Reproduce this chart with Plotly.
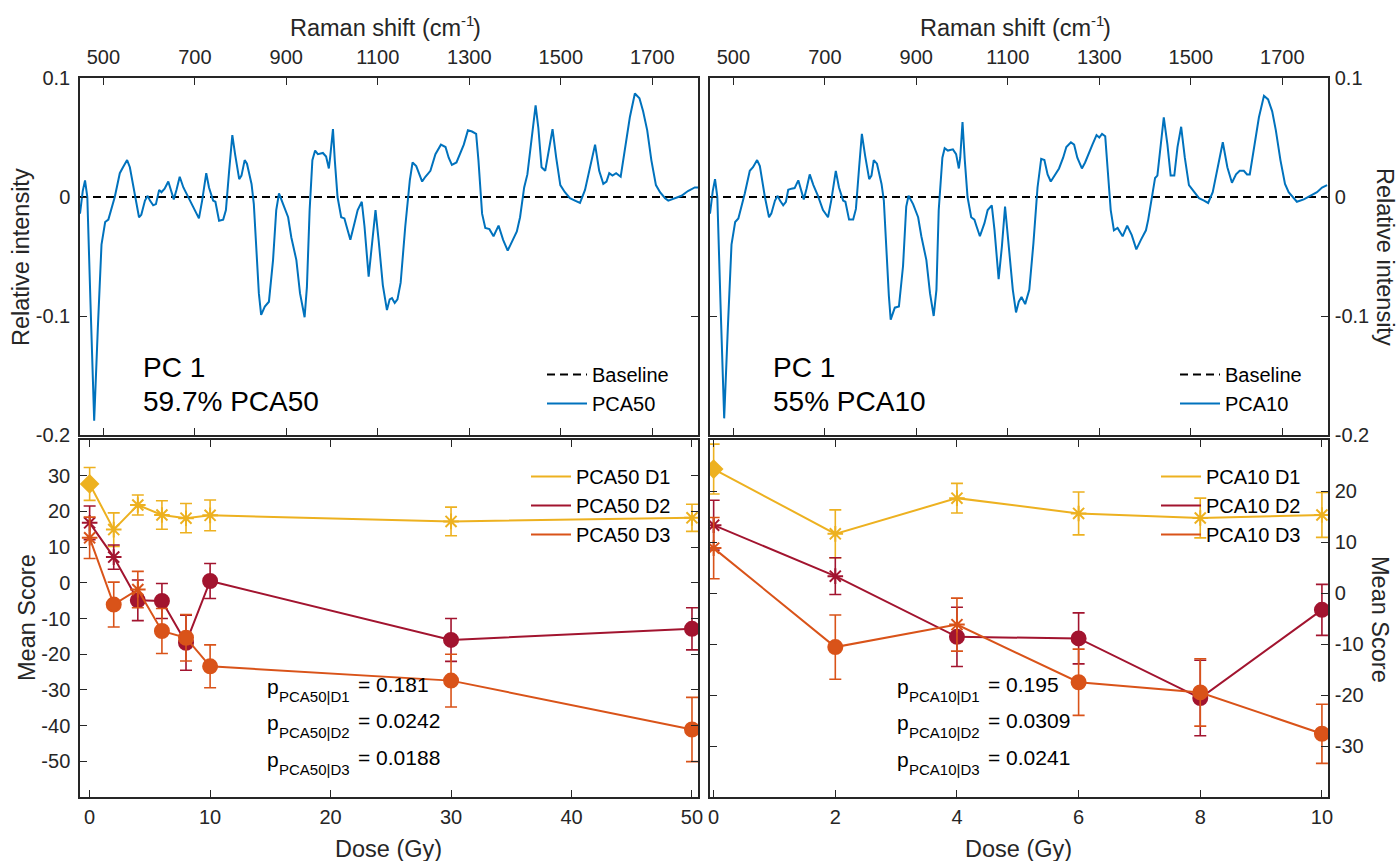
import plotly.graph_objects as go

# ---------------- data ----------------
wn_pca50 = [449, 455, 460, 465, 472, 480, 488, 496, 504, 511, 525, 536, 543, 552, 558, 569, 578, 583, 591, 597,
            602, 609, 615, 622, 627, 634, 642, 646, 654, 660, 667, 675, 685, 696, 709, 716, 725, 731, 740, 745,
            753, 762, 768, 775, 782, 788, 797, 802, 809, 814, 824, 829, 834, 840, 845, 853, 862, 871, 878, 884,
            893, 904, 911, 922, 930, 940, 945, 951, 957, 963, 969, 980, 987, 993, 996, 1002, 1006, 1012, 1020, 1027,
            1032, 1040, 1049, 1056, 1065, 1071, 1080, 1087, 1095, 1102, 1111, 1120, 1126, 1131, 1137, 1143, 1150, 1160, 1170, 1176,
            1184, 1197, 1204, 1215, 1226, 1238, 1248, 1255, 1262, 1272, 1279, 1288, 1297, 1306, 1315, 1320, 1328, 1335, 1344, 1353,
            1364, 1374, 1384, 1393, 1404, 1411, 1420, 1427, 1434, 1445, 1451, 1458, 1466, 1475, 1482, 1490, 1499, 1509, 1520, 1531,
            1542, 1553, 1564, 1575, 1584, 1593, 1600, 1606, 1613, 1621, 1631, 1640, 1651, 1662, 1672, 1680, 1689, 1698, 1708, 1717,
            1728, 1735, 1749, 1764, 1778, 1793, 1800]
int_pca50 = [-0.014, 0.005, 0.014, 0.0, -0.09, -0.188, -0.11, -0.04, -0.021, -0.019, 0.0, 0.020, 0.025, 0.031, 0.025, 0.0, -0.017, -0.015, -0.003, 0.001,
             -0.003, -0.007, -0.006, 0.006, 0.004, 0.007, 0.013, 0.008, -0.002, 0.006, 0.017, 0.008, 0.0, -0.008, -0.018, -0.003, 0.020, 0.008, -0.003, -0.004,
             -0.020, -0.019, -0.011, 0.022, 0.052, 0.036, 0.015, 0.018, 0.031, 0.028, 0.011, -0.006, -0.042, -0.081, -0.099, -0.092, -0.088, -0.053, -0.011, 0.003,
             -0.006, -0.017, -0.034, -0.053, -0.081, -0.101, -0.076, -0.011, 0.031, 0.039, 0.036, 0.037, 0.034, 0.024, 0.034, 0.057, 0.031, 0.0, -0.017, -0.018,
             -0.025, -0.036, -0.022, -0.011, -0.004, -0.025, -0.067, -0.042, -0.011, -0.037, -0.074, -0.095, -0.086, -0.085, -0.089, -0.086, -0.072, -0.025, 0.014, 0.029,
             0.026, 0.013, 0.017, 0.022, 0.036, 0.044, 0.042, 0.033, 0.027, 0.029, 0.036, 0.044, 0.056, 0.055, 0.053, 0.031, -0.014, -0.026, -0.027, -0.033,
             -0.024, -0.036, -0.045, -0.038, -0.029, -0.017, 0.008, 0.019, 0.042, 0.077, 0.058, 0.025, 0.022, 0.042, 0.057, 0.033, 0.010, 0.004, -0.001, -0.003,
             -0.005, 0.006, 0.025, 0.044, 0.022, 0.011, 0.013, 0.020, 0.018, 0.020, 0.017, 0.039, 0.067, 0.087, 0.083, 0.072, 0.056, 0.031, 0.010, 0.004,
             -0.001, -0.003, -0.001, 0.001, 0.005, 0.008, 0.008]

wn_pca10 = [449, 455, 460, 465, 472, 480, 488, 496, 504, 511, 525, 536, 543, 552, 558, 569, 578, 583, 591, 597,
            602, 609, 615, 620, 627, 634, 642, 646, 654, 660, 667, 675, 685, 696, 707, 714, 724, 731, 740, 745,
            753, 762, 768, 775, 781, 788, 797, 802, 807, 814, 824, 829, 834, 840, 844, 853, 862, 871, 878, 883,
            893, 904, 911, 922, 930, 938, 944, 949, 957, 962, 969, 980, 987, 993, 996, 1001, 1006, 1012, 1020, 1027,
            1032, 1039, 1049, 1056, 1065, 1071, 1080, 1087, 1094, 1102, 1111, 1118, 1124, 1130, 1138, 1147, 1156, 1165, 1173, 1180,
            1187, 1194, 1202, 1212, 1221, 1228, 1238, 1245, 1252, 1262, 1269, 1276, 1285, 1294, 1300, 1306, 1313, 1318, 1325, 1332,
            1340, 1351, 1361, 1371, 1381, 1391, 1402, 1407, 1415, 1422, 1427, 1434, 1441, 1449, 1456, 1464, 1471, 1479, 1487, 1496,
            1507, 1518, 1529, 1538, 1548, 1558, 1570, 1580, 1590, 1599, 1607, 1616, 1623, 1629, 1638, 1649, 1660, 1669, 1678, 1686,
            1696, 1706, 1714, 1725, 1732, 1747, 1761, 1776, 1787, 1798]
int_pca10 = [-0.014, 0.005, 0.015, 0.0, -0.09, -0.186, -0.11, -0.04, -0.021, -0.018, 0.003, 0.022, 0.025, 0.031, 0.026, 0.0, -0.017, -0.014, -0.003, 0.001,
             -0.003, -0.007, -0.004, 0.006, 0.007, 0.0075, 0.014, 0.009, -0.002, 0.007, 0.019, 0.010, 0.001, -0.011, -0.017, -0.003, 0.022, 0.008, -0.003, -0.004,
             -0.019, -0.019, -0.010, 0.025, 0.053, 0.035, 0.015, 0.018, 0.031, 0.028, 0.011, -0.003, -0.042, -0.083, -0.103, -0.093, -0.092, -0.058, -0.008, 0.001,
             -0.006, -0.017, -0.033, -0.053, -0.081, -0.100, -0.078, -0.011, 0.033, 0.041, 0.039, 0.040, 0.036, 0.024, 0.033, 0.063, 0.031, 0.0, -0.017, -0.019,
             -0.025, -0.033, -0.022, -0.011, -0.007, -0.028, -0.069, -0.042, -0.008, -0.042, -0.078, -0.097, -0.088, -0.084, -0.090, -0.078, -0.039, 0.008, 0.032, 0.031,
             0.019, 0.013, 0.018, 0.024, 0.033, 0.042, 0.046, 0.044, 0.033, 0.024, 0.029, 0.036, 0.044, 0.052, 0.050, 0.053, 0.051, 0.025, -0.011, -0.028,
             -0.026, -0.033, -0.024, -0.032, -0.044, -0.036, -0.028, -0.019, 0.0, 0.016, 0.018, 0.044, 0.067, 0.044, 0.018, 0.018, 0.042, 0.059, 0.033, 0.010,
             0.004, -0.001, -0.003, -0.005, 0.004, 0.022, 0.046, 0.025, 0.012, 0.019, 0.022, 0.022, 0.019, 0.019, 0.039, 0.067, 0.085, 0.082, 0.072, 0.056,
             0.031, 0.011, 0.004, -0.001, -0.004, -0.002, 0.001, 0.004, 0.008, 0.010]
baseline_level = 0.0

doses50 = [0, 2, 4, 6, 8, 10, 30, 50]
d1_50 = [27.7, 14.9, 21.8, 19.0, 18.1, 18.9, 17.2, 18.2]
d1_50_err = [4.6, 4.7, 2.8, 4.0, 4.1, 4.3, 4.0, 3.8]
d2_50 = [16.8, 7.2, -4.9, -5.1, -16.8, 0.5, -16.0, -12.9]
d2_50_err = [4.7, 3.4, 5.7, 4.9, 7.7, 4.9, 6.0, 5.9]
d3_50 = [12.6, -6.1, -1.9, -13.5, -15.4, -23.4, -27.4, -41.1]
d3_50_err = [5.8, 6.3, 5.1, 6.3, 6.5, 6.0, 7.4, 9.0]

doses10 = [0, 2, 4, 6, 8, 10]
d1_10 = [24.3, 11.6, 18.6, 15.6, 14.7, 15.3]
d1_10_err = [4.9, 4.7, 2.9, 4.2, 3.9, 4.4]
d2_10 = [13.3, 3.3, -8.6, -8.9, -20.6, -3.3]
d2_10_err = [4.9, 3.6, 5.8, 5.0, 7.4, 5.0]
d3_10 = [8.8, -10.6, -6.2, -17.5, -19.5, -27.6]
d3_10_err = [6.0, 6.3, 5.2, 6.5, 6.6, 5.8]

p_labels = ["D1", "D2", "D3"]
p50 = ["0.181", "0.0242", "0.0188"]
p10 = ["0.195", "0.0309", "0.0241"]

raman_ticks = [500, 700, 900, 1100, 1300, 1500, 1700]
rel_ticks = [-0.2, -0.1, 0, 0.1]
score50_ticks = [-50, -40, -30, -20, -10, 0, 10, 20, 30]
score10_ticks = [-30, -20, -10, 0, 10, 20]
dose50_ticks = [0, 10, 20, 30, 40, 50]
dose10_ticks = [0, 2, 4, 6, 8, 10]

# ---------------- style ----------------
W, H = 1398, 861
FONT = "Liberation Sans, Arial, sans-serif"
AX = "#262626"
BLUE = "#0072BD"
C1, C2, C3 = "#EDB120", "#A2142F", "#D95319"

sym50_d1 = ["diamond"] + ["asterisk-open"] * 7
sym50_d2 = ["asterisk-open"] * 2 + ["circle"] * 6
sym50_d3 = ["asterisk-open", "circle", "asterisk-open"] + ["circle"] * 5
sym10_d1 = ["diamond"] + ["asterisk-open"] * 5
sym10_d2 = ["asterisk-open"] * 2 + ["circle"] * 4
sym10_d3 = ["asterisk-open", "circle", "asterisk-open"] + ["circle"] * 3


def fx(px):
    return px / W


def fy(py):
    return 1 - py / H


def fmt(v):
    return ("%g" % v).replace("\u2212", "-")


def msize(symbols):
    return [14 if s == "circle" else 13 for s in symbols]


fig = go.Figure()

# top panels
for xa, ya, wn, vals, name, leg in [("x", "y", wn_pca50, int_pca50, "PCA50", "legend"),
                                    ("x2", "y2", wn_pca10, int_pca10, "PCA10", "legend2")]:
    fig.add_trace(go.Scatter(x=[wn[0], wn[-1]], y=[baseline_level, baseline_level], mode="lines",
                             line=dict(color="black", width=2, dash="8px,5px"), name="Baseline",
                             xaxis=xa, yaxis=ya, legend=leg, legendgroup=leg + "a"))
    fig.add_trace(go.Scatter(x=wn, y=vals, mode="lines", line=dict(color=BLUE, width=2),
                             name=name, xaxis=xa, yaxis=ya, legend=leg, legendgroup=leg + "b"))

# bottom panels
series = [
    ("x3", "y3", "legend3", doses50, [("PCA50 D1", d1_50, d1_50_err, C1, sym50_d1),
                                      ("PCA50 D2", d2_50, d2_50_err, C2, sym50_d2),
                                      ("PCA50 D3", d3_50, d3_50_err, C3, sym50_d3)]),
    ("x4", "y4", "legend4", doses10, [("PCA10 D1", d1_10, d1_10_err, C1, sym10_d1),
                                      ("PCA10 D2", d2_10, d2_10_err, C2, sym10_d2),
                                      ("PCA10 D3", d3_10, d3_10_err, C3, sym10_d3)]),
]
for xa, ya, leg, doses, lst in series:
    for i, (name, vals, err, col, syms) in enumerate(lst):
        fig.add_trace(go.Scatter(x=doses, y=vals, mode="lines", line=dict(color=col, width=2),
                                 name=name, xaxis=xa, yaxis=ya, legend=leg, legendgroup=leg + "g"))
        fig.add_trace(go.Scatter(x=doses, y=vals, mode="markers", showlegend=False, legend=leg,
                                 marker=dict(symbol=syms, size=msize(syms), color=col, opacity=1,
                                             line=dict(color=col, width=2)),
                                 error_y=dict(type="data", array=err, visible=True, color=col,
                                              thickness=1.6, width=6),
                                 xaxis=xa, yaxis=ya))

axis_common = dict(showline=True, linecolor=AX, linewidth=1.5, mirror="ticks", ticks="inside",
                   ticklen=7, tickwidth=1.3, tickcolor=AX, showgrid=False, zeroline=False,
                   tickfont=dict(family=FONT, size=20, color=AX))

LX = [fx(80), fx(698)]
RX = [fx(710), fx(1328)]
TY = [fy(435), fy(78)]
BY = [fy(797), fy(440)]

fig.update_layout(
    width=W, height=H, margin=dict(l=0, r=0, t=0, b=0, autoexpand=False),
    paper_bgcolor="white", plot_bgcolor="white",
    font=dict(family=FONT, color=AX),
    xaxis=dict(domain=LX, anchor="y", range=[449, 1800], side="top", tickvals=raman_ticks,
               ticklabelstandoff=4, **axis_common),
    yaxis=dict(domain=TY, anchor="x", range=[-0.2, 0.1], tickvals=rel_ticks,
               ticktext=[fmt(v) for v in rel_ticks], ticklabelstandoff=4, **axis_common),
    xaxis2=dict(domain=RX, anchor="y2", range=[449, 1800], side="top", tickvals=raman_ticks,
                ticklabelstandoff=4, **axis_common),
    yaxis2=dict(domain=TY, anchor="x2", range=[-0.2, 0.1], side="right", tickvals=rel_ticks,
                ticktext=[fmt(v) for v in rel_ticks], ticklabelstandoff=1, **axis_common),
    xaxis3=dict(domain=LX, anchor="y3", range=[-0.8, 50.5], tickvals=dose50_ticks,
                ticklabelstandoff=1, **axis_common),
    yaxis3=dict(domain=BY, anchor="x3", range=[-60, 40], tickvals=score50_ticks,
                ticktext=[fmt(v) for v in score50_ticks], ticklabelstandoff=4, **axis_common),
    xaxis4=dict(domain=RX, anchor="y4", range=[-0.06, 10.1], tickvals=dose10_ticks,
                ticklabelstandoff=1, **axis_common),
    yaxis4=dict(domain=BY, anchor="x4", range=[-40, 30], side="right", tickvals=score10_ticks,
                ticktext=[fmt(v) for v in score10_ticks], ticklabelstandoff=1, **axis_common),
)

leg_common = dict(bgcolor="rgba(0,0,0,0)", borderwidth=0, font=dict(family=FONT, size=20, color="black"),
                  xanchor="left", yanchor="top", itemwidth=40, tracegroupgap=0)
fig.update_layout(
    legend=dict(x=fx(542), y=fy(355), **leg_common),
    legend2=dict(x=fx(1175), y=fy(355), **leg_common),
    legend3=dict(x=fx(526), y=fy(457), **leg_common),
    legend4=dict(x=fx(1156), y=fy(457), **leg_common),
)

ann = []


def add_text(px, py, text, size, angle=0, xanchor="center", color="black"):
    ann.append(dict(x=fx(px), y=fy(py), xref="paper", yref="paper", text=text, showarrow=False,
                    textangle=angle, xanchor=xanchor, yanchor="middle",
                    font=dict(family=FONT, size=size, color=color)))


TS = 23.5
for dx in (0, 630):
    add_text(463 + dx, 28, "Raman shift (cm", TS, xanchor="right", color=AX)
    add_text(459 + dx, 20, "-1", 15, xanchor="left", color=AX)
    add_text(471 + dx, 28, ")", TS, xanchor="left", color=AX)
    add_text(388 + dx, 849, "Dose (Gy)", TS, color=AX)
add_text(21, 257, "Relative intensity", TS, angle=-90, color=AX)
add_text(1385, 257, "Relative intensity", TS, angle=90, color=AX)
add_text(27, 618, "Mean Score", TS, angle=-90, color=AX)
add_text(1380, 619, "Mean Score", TS, angle=90, color=AX)
add_text(141, 367, "PC 1", 28, xanchor="left")
add_text(141, 402, "59.7% PCA50", 28, xanchor="left")
add_text(771, 367, "PC 1", 28, xanchor="left")
add_text(771, 402, "55% PCA10", 28, xanchor="left")
for i, lab in enumerate(p_labels):
    yy = 686 + i * 36.5
    for x0, grp, val in [(265, "PCA50", p50[i]), (895, "PCA10", p10[i])]:
        add_text(x0, yy, "p", 21, xanchor="left")
        add_text(x0 + 12, yy + 10, grp + "|" + lab, 15, xanchor="left")
        add_text(x0 + 91, yy - 2, "= " + val, 21, xanchor="left")

fig.update_layout(annotations=ann)
fig.write_html("out.html")
